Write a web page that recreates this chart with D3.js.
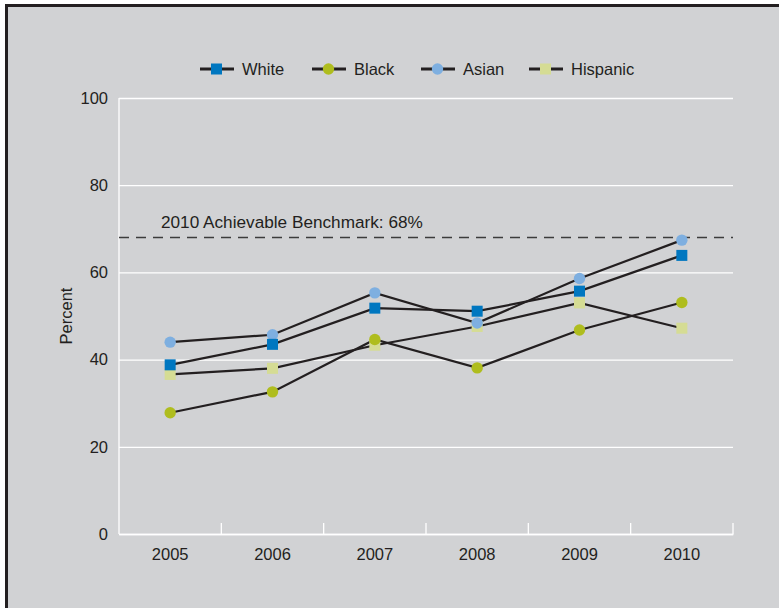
<!DOCTYPE html>
<html>
<head>
<meta charset="utf-8">
<script src="https://cdn.jsdelivr.net/npm/d3@7"></script>
<style>
  html, body { margin: 0; padding: 0; background: #ffffff; }
  svg { display: block; }
  text { font-family: "Liberation Sans", Arial, Helvetica, sans-serif; fill: #231f20; }
</style>
</head>
<body>
<svg id="chart" width="779" height="608"></svg>
<script>
const years = ["2005", "2006", "2007", "2008", "2009", "2010"];
const white    = [38.8, 43.5, 51.8, 51.1, 55.7, 63.9];
const black    = [27.8, 32.6, 44.6, 38.1, 46.8, 53.1];
const asian    = [44.0, 45.7, 55.3, 48.4, 58.6, 67.4];
const hispanic = [36.6, 38.0, 43.3, 47.6, 53.0, 47.2];
const yTicks = [0, 20, 40, 60, 80, 100];
const benchmark = 68;
const benchmarkLabel = "2010 Achievable Benchmark: 68%";
const yLabel = "Percent";

const seriesList = [
  { name: "White",    values: white,    color: "#0077c0", shape: "square" },
  { name: "Black",    values: black,    color: "#afbd1e", shape: "circle" },
  { name: "Asian",    values: asian,    color: "#7eafe0", shape: "circle" },
  { name: "Hispanic", values: hispanic, color: "#d5dc94", shape: "square" }
];
const drawOrder = ["Hispanic", "Asian", "Black", "White"];

(function () {
const svg = d3.select("#chart");
const W = 779, H = 608;
const pLeft = 119, pRight = 733, pTop = 98, pBottom = 534;

// panel background with dark top/left rules
svg.append("rect").attr("x", 5).attr("y", 4).attr("width", W - 5).attr("height", H - 4).attr("fill", "#d1d2d4");
svg.append("rect").attr("x", 5).attr("y", 4).attr("width", W - 5).attr("height", 3).attr("fill", "#231f20");
svg.append("rect").attr("x", 5).attr("y", 4).attr("width", 3).attr("height", H - 4).attr("fill", "#231f20");

const x = d3.scaleBand().domain(years).range([pLeft, pRight]).padding(0);
const y = d3.scaleLinear().domain([0, 100]).range([pBottom, pTop]);

// y grid + labels
const yAxis = svg.append("g").attr("transform", `translate(${pLeft},0)`)
  .call(d3.axisLeft(y).tickValues(yTicks).tickSize(-(pRight - pLeft)).tickPadding(11));
yAxis.select(".domain").remove();
yAxis.selectAll(".tick line").attr("stroke", "#ffffff").attr("stroke-width", 1.3);
yAxis.selectAll(".tick text").style("font-size", "16.5px").attr("fill", "#231f20")
  .style("font-family", "'Liberation Sans', Arial, sans-serif");

// left axis line
svg.append("line").attr("x1", pLeft).attr("x2", pLeft).attr("y1", pTop).attr("y2", pBottom)
  .attr("stroke", "#ffffff").attr("stroke-width", 1.3);

// x axis
const xAxis = svg.append("g").attr("transform", `translate(0,${pBottom})`)
  .call(d3.axisBottom(x).tickSize(0).tickPadding(14));
xAxis.select(".domain").attr("stroke", "#ffffff").attr("stroke-width", 1.3);
xAxis.selectAll(".tick text").style("font-size", "16.5px").attr("fill", "#231f20")
  .style("font-family", "'Liberation Sans', Arial, sans-serif");
// boundary tick marks (pointing up)
svg.append("g").selectAll("line").data(years).join("line")
  .attr("x1", d => x(d) + x.bandwidth()).attr("x2", d => x(d) + x.bandwidth())
  .attr("y1", pBottom).attr("y2", pBottom - 11)
  .attr("stroke", "#ffffff").attr("stroke-width", 1.3);

// y label
svg.append("text").attr("transform", `translate(72,${(pTop + pBottom) / 2}) rotate(-90)`)
  .attr("text-anchor", "middle").style("font-size", "16.5px").text(yLabel);

// benchmark
svg.append("line").attr("x1", pLeft).attr("x2", pRight).attr("y1", y(benchmark)).attr("y2", y(benchmark))
  .attr("stroke", "#3c3c3c").attr("stroke-width", 1.3).attr("stroke-dasharray", "10,7");
svg.append("text").attr("x", 161).attr("y", y(benchmark) - 10).style("font-size", "17.2px").text(benchmarkLabel);

// lines
const cx = d => x(d) + x.bandwidth() / 2;
const line = d3.line().x((v, i) => cx(years[i])).y(v => y(v));
const ordered = drawOrder.map(n => seriesList.find(s => s.name === n));
svg.append("g").selectAll("path").data(ordered).join("path")
  .attr("d", s => line(s.values)).attr("fill", "none")
  .attr("stroke", "#231f20").attr("stroke-width", 2.2);

// markers
function marker(g, s, px, py) {
  if (s.shape === "square") {
    g.append("rect").attr("x", px - 5.5).attr("y", py - 5.5).attr("width", 11).attr("height", 11).attr("fill", s.color);
  } else {
    g.append("circle").attr("cx", px).attr("cy", py).attr("r", 5.7).attr("fill", s.color);
  }
}
ordered.forEach(s => {
  const g = svg.append("g");
  s.values.forEach((v, i) => marker(g, s, cx(years[i]), y(v)));
});

// legend
const legendX = [200, 312, 421, 529];
const legendY = 69;
seriesList.forEach((s, i) => {
  const g = svg.append("g");
  const lx = legendX[i];
  g.append("line").attr("x1", lx).attr("x2", lx + 34).attr("y1", legendY).attr("y2", legendY)
    .attr("stroke", "#231f20").attr("stroke-width", 3);
  marker(g, s, lx + 16.5, legendY);
  g.append("text").attr("x", lx + 42).attr("y", legendY + 5.5).style("font-size", "16.5px").text(s.name);
});
})();
</script>
</body>
</html>
